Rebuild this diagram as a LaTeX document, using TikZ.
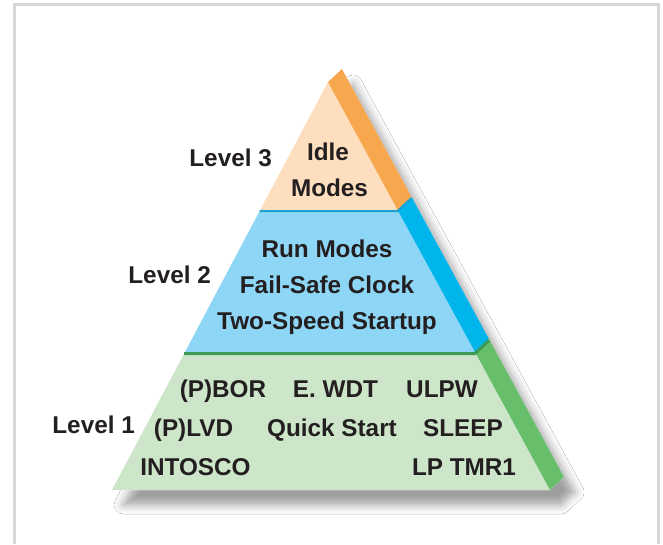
\documentclass[tikz,border=0pt]{standalone}
\usepackage{fontspec}
\setmainfont{Liberation Sans}
\usetikzlibrary{shadows.blur,calc}
\definecolor{txt}{HTML}{231F20}
\definecolor{peach}{HTML}{FDDFBF}
\definecolor{orangeS}{HTML}{F7A84F}
\definecolor{blueF}{HTML}{8ED6F6}
\definecolor{blueS}{HTML}{00B5EC}
\definecolor{blueL}{HTML}{1A9FCF}
\definecolor{greenF}{HTML}{CDE6CA}
\definecolor{greenS}{HTML}{67BF6B}
\definecolor{greenL}{HTML}{3D9A55}
\definecolor{frameC}{HTML}{D6D6D6}
\begin{document}
\begin{tikzpicture}[x=1pt,y=-1pt,
  lbl/.style={font=\fontsize{24.3}{28}\selectfont\bfseries, text=txt, inner sep=0pt},
]
\useasboundingbox (0,0) rectangle (663,544);
\fill[white] (0,0) rectangle (663,544);
\draw[frameC, line width=3pt] (14.5,544) -- (14.5,4.5) -- (658,4.5) -- (658,544);
% key points
\coordinate (A) at (328,82);
\coordinate (BL) at (112,490);
\coordinate (BR) at (550,490);
\coordinate (L3l) at (260.2,210);
\coordinate (L3r) at (397.6,210);
\coordinate (L2l) at (185,352);
\coordinate (L2r) at (475,352);
% shadow
\path[fill=white, blur shadow={shadow xshift=11pt, shadow yshift=-15pt, shadow blur radius=9pt, shadow opacity=38}]
  (BL) -- (A) -- ($(A)+(14,-13)$) -- ($(BR)+(14,-13)$) -- (BR) -- cycle;
% faces
\fill[peach] (A) -- (L3r) -- (L3l) -- cycle;
\fill[blueF] (L3l) -- (L3r) -- (L2r) -- (L2l) -- cycle;
\fill[greenF] (L2l) -- (L2r) -- (BR) -- (BL) -- cycle;
% side strips
\fill[orangeS] (A) -- ($(A)+(14,-13)$) -- ($(L3r)+(14,-13)$) -- (L3r) -- cycle;
\fill[blueS] (L3r) -- ($(L3r)+(14,-13)$) -- ($(L2r)+(14,-13)$) -- (L2r) -- cycle;
\fill[greenS] (L2r) -- ($(L2r)+(14,-13)$) -- ($(BR)+(14,-13)$) -- (BR) -- cycle;
% top bevel lines
\draw[blueL, line width=2pt] ($(L3l)+(-0.5,1)$) -- ($(L3r)+(0,1)$) -- ($(L3r)+(14,-12)$);
\draw[greenL, line width=3pt] ($(L2l)+(-0.8,1.5)$) -- ($(L2r)+(0,1.5)$) -- ($(L2r)+(14,-11.5)$);
% labels
\node[lbl, anchor=base east] (lv3) at (272,166) {Level 3};
\node[lbl, anchor=base] (idle) at (328,160) {Idle};
\node[lbl, anchor=base] (modes) at (329.5,196) {Modes};
\node[lbl, anchor=base east] (lv2) at (211,283) {Level 2};
\node[lbl, anchor=base] (run) at (327,257) {Run Modes};
\node[lbl, anchor=base] (fsc) at (327,293) {Fail-Safe Clock};
\node[lbl, anchor=base] (tss) at (327,329) {Two-Speed Startup};
\node[lbl, anchor=base east] (lv1) at (135,433) {Level 1};
\node[lbl, anchor=base] (pbor) at (223,397) {(P)BOR};
\node[lbl, anchor=base] (ewdt) at (335.5,397) {E. WDT};
\node[lbl, anchor=base] (ulpw) at (442,397) {ULPW};
\node[lbl, anchor=base] (plvd) at (193.5,436) {(P)LVD};
\node[lbl, anchor=base] (qs) at (332,436) {Quick Start};
\node[lbl, anchor=base] (sleep) at (463,436) {SLEEP};
\node[lbl, anchor=base] (into) at (195.5,475) {INTOSCO};
\node[lbl, anchor=base] (lptmr) at (464,475) {LP TMR1};
\end{tikzpicture}
\end{document}
